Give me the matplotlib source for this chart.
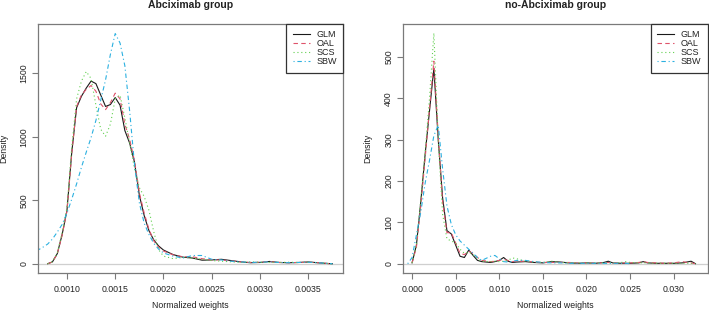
import numpy as np
import matplotlib
matplotlib.use("Agg")
import matplotlib.pyplot as plt
from matplotlib.lines import Line2D

nan = np.nan

# ---------------- Abciximab group ----------------
x_abc = [0.00065, 0.00070, 0.00075, 0.00080, 0.00085, 0.00090, 0.00095, 0.00100, 0.00105,
         0.00110, 0.00115, 0.00120, 0.00125, 0.00130, 0.00135, 0.00140, 0.00145,
         0.00150, 0.00155, 0.00160, 0.00165, 0.00170, 0.00175, 0.00180, 0.00185,
         0.00190, 0.00195, 0.00200, 0.00210, 0.00220, 0.00230, 0.00240, 0.00250,
         0.00260, 0.00270, 0.00280, 0.00290, 0.00300, 0.00310, 0.00320, 0.00330,
         0.00340, 0.00350, 0.00360, 0.00370, 0.00375]
glm_abc = [nan, nan, nan, 0, 15, 80, 230, 420, 880,
           1230, 1320, 1385, 1440, 1420, 1330, 1240, 1255,
           1310, 1250, 1050, 950, 800, 540, 380, 260,
           187, 140, 108, 72, 52, 45, 28, 30,
           35, 25, 15, 8, 10, 18, 10, 8,
           10, 14, 8, 2, 0]
oal_abc = [nan, nan, nan, 0, 14, 78, 225, 415, 870,
           1240, 1330, 1375, 1405, 1360, 1260, 1215, 1270,
           1345, 1300, 1100, 980, 810, 560, 400, 270,
           180, 130, 100, 70, 55, 55, 40, 30,
           30, 22, 15, 10, 12, 16, 10, 8,
           10, 12, 8, 2, 0]
scs_abc = [nan, nan, nan, 0, 16, 85, 245, 440, 920,
           1300, 1440, 1515, 1460, 1250, 1060, 1005, 1100,
           1300, 1330, 1150, 950, 750, 600, 530, 420,
           250, 110, 60, 40, 50, 45, 35, 25,
           20, 15, 10, 15, 12, 10, 10, 12,
           10, 12, 8, 2, 0]
sbw_abc = [85, 108, 130, 155, 195, 250, 310, 400, 510,
           630, 760, 880, 995, 1130, 1290, 1450, 1650,
           1815, 1740, 1560, 1200, 780, 480, 320, 230,
           160, 115, 85, 60, 45, 65, 65, 35,
           30, 20, 15, 10, 12, 15, 10, 8,
           10, 12, 8, 2, 0]

# ---------------- no-Abciximab group ----------------
x_no = [-0.0005, 0.0000, 0.0005, 0.0010, 0.0015, 0.0020, 0.0025, 0.0030, 0.0035,
        0.0040, 0.0045, 0.0050, 0.0055, 0.0060, 0.0065, 0.0070, 0.0075, 0.0080,
        0.0090, 0.0095, 0.0100, 0.0105, 0.0110, 0.0115, 0.0120, 0.0130, 0.0140,
        0.0150, 0.0160, 0.0170, 0.0180, 0.0190, 0.0200, 0.0210, 0.0220, 0.0225,
        0.0230, 0.0240, 0.0245, 0.0250, 0.0260, 0.0265, 0.0270, 0.0280, 0.0290,
        0.0300, 0.0310, 0.0315, 0.0320, 0.0325]
glm_no = [nan, 2, 45, 150, 265, 370, 473, 300, 160,
          80, 72, 45, 18, 15, 33, 20, 8, 5,
          3, 5, 8, 15, 6, 3, 4, 5, 3,
          2, 5, 4, 2, 1, 2, 1, 3, 6,
          2, 1, 1, 1, 2, 5, 2, 1, 1,
          1, 2, 4, 6, 0]
oal_no = [nan, 2, 40, 140, 255, 375, 490, 310, 150,
          75, 75, 50, 25, 22, 30, 25, 15, 8,
          5, 6, 8, 10, 8, 5, 6, 6, 4,
          3, 3, 3, 3, 2, 2, 2, 2, 3,
          2, 2, 2, 2, 3, 5, 3, 2, 1,
          2, 5, 3, 2, 0]
scs_no = [nan, 2, 45, 155, 270, 400, 558, 300, 120,
          60, 55, 50, 35, 25, 28, 22, 12, 6,
          5, 6, 5, 6, 8, 14, 12, 6, 4,
          3, 6, 3, 2, 2, 2, 2, 2, 2,
          2, 3, 5, 3, 2, 2, 2, 1, 1,
          1, 1, 1, 1, 0]
sbw_no = [0, 15, 70, 125, 195, 250, 310, 335, 230,
          140, 95, 70, 55, 45, 35, 25, 15, 8,
          18, 20, 12, 5, 4, 5, 8, 8, 5,
          3, 2, 2, 1, 1, 1, 1, 1, 1,
          1, 1, 1, 0, nan, nan, nan, nan, nan,
          nan, nan, nan, nan, nan]

series_names = ["GLM", "OAL", "SCS", "SBW"]
colors = ["#1a1a1a", "#DF536B", "#61D04F", "#2BB0E0"]
dashes = [None, (4, 3), (1, 2.5), (1, 2.5, 4, 2.5)]

plt.rcParams['font.family'] = ['Liberation Sans', 'DejaVu Sans']
text_col = "#222222"
frame_col = "#7a7a7a"

fig = plt.figure(figsize=(7.09, 3.13), dpi=100)
W, H = 709.0, 313.0

def make_ax(l, r, t, b):
    return fig.add_axes([l / W, 1 - b / H, (r - l) / W, (b - t) / H])

ax1 = make_ax(38, 343, 24, 273)
ax2 = make_ax(403, 707.5, 24, 273)

panels = [
    (ax1, x_abc, [glm_abc, oal_abc, scs_abc, sbw_abc], "Abciximab group",
     (0.00070, 0.00386), (-73, 1890), [0.0010, 0.0015, 0.0020, 0.0025, 0.0030, 0.0035],
     ["0.0010", "0.0015", "0.0020", "0.0025", "0.0030", "0.0035"], [0, 500, 1000, 1500],
     (38, 343), 4),
    (ax2, x_no, [glm_no, oal_no, scs_no, sbw_no], "no-Abciximab group",
     (-0.00104, 0.03388), (-22.5, 580), [0.000, 0.005, 0.010, 0.015, 0.020, 0.025, 0.030],
     ["0.000", "0.005", "0.010", "0.015", "0.020", "0.025", "0.030"], [0, 100, 200, 300, 400, 500],
     (403, 707.5), 368),
]

for ax, xs, ys, title, xlim, ylim, xt, xtl, yt, (pl, pr), ylab_x in panels:
    ax.axhline(0, color="#cfcfcf", lw=0.9, zorder=1)
    handles = []
    for y, name, c, d in zip(ys, series_names, colors, dashes):
        ln, = ax.plot(xs, y, color=c, lw=0.8, zorder=2)
        if d is not None:
            ln.set_dashes(d)
        h = Line2D([], [], color=c, lw=0.8)
        if d is not None:
            h.set_dashes(d)
        handles.append(h)
    ax.set_xlim(*xlim)
    ax.set_ylim(*ylim)
    ax.set_xticks(xt)
    ax.set_xticklabels(xtl)
    ax.set_yticks(yt)
    ax.set_yticklabels([str(v) for v in yt], rotation=90, va="center")
    ax.tick_params(axis="both", direction="out", length=4, width=0.8, color=frame_col,
                   labelsize=6.3, labelcolor=text_col, pad=3)
    ax.tick_params(axis="x", pad=5)
    for s in ax.spines.values():
        s.set_color(frame_col)
        s.set_linewidth(0.9)
    cx = (pl + pr) / 2 / W
    fig.text(cx, 1 - 5.5 / H, title, fontsize=7.5, fontweight="bold", color=text_col,
             ha="center", va="center")
    fig.text(cx, 1 - 306 / H, "Normalized weights", fontsize=6.3, color=text_col,
             ha="center", va="center")
    fig.text(ylab_x / W if ylab_x > 10 else ylab_x / W, 1 - 148 / H, "Density",
             fontsize=6.3, color=text_col, rotation=90, ha="center", va="center")
    leg = ax.legend(handles, series_names, loc="upper right", borderaxespad=0,
                    fancybox=False, framealpha=1, edgecolor="#333333", fontsize=6.5,
                    handlelength=1.9, handletextpad=0.7, labelspacing=0.0,
                    borderpad=0.7)
    leg.get_frame().set_linewidth(0.9)
    for t in leg.get_texts():
        t.set_color(text_col)

fig.savefig("out.png", dpi=100)
